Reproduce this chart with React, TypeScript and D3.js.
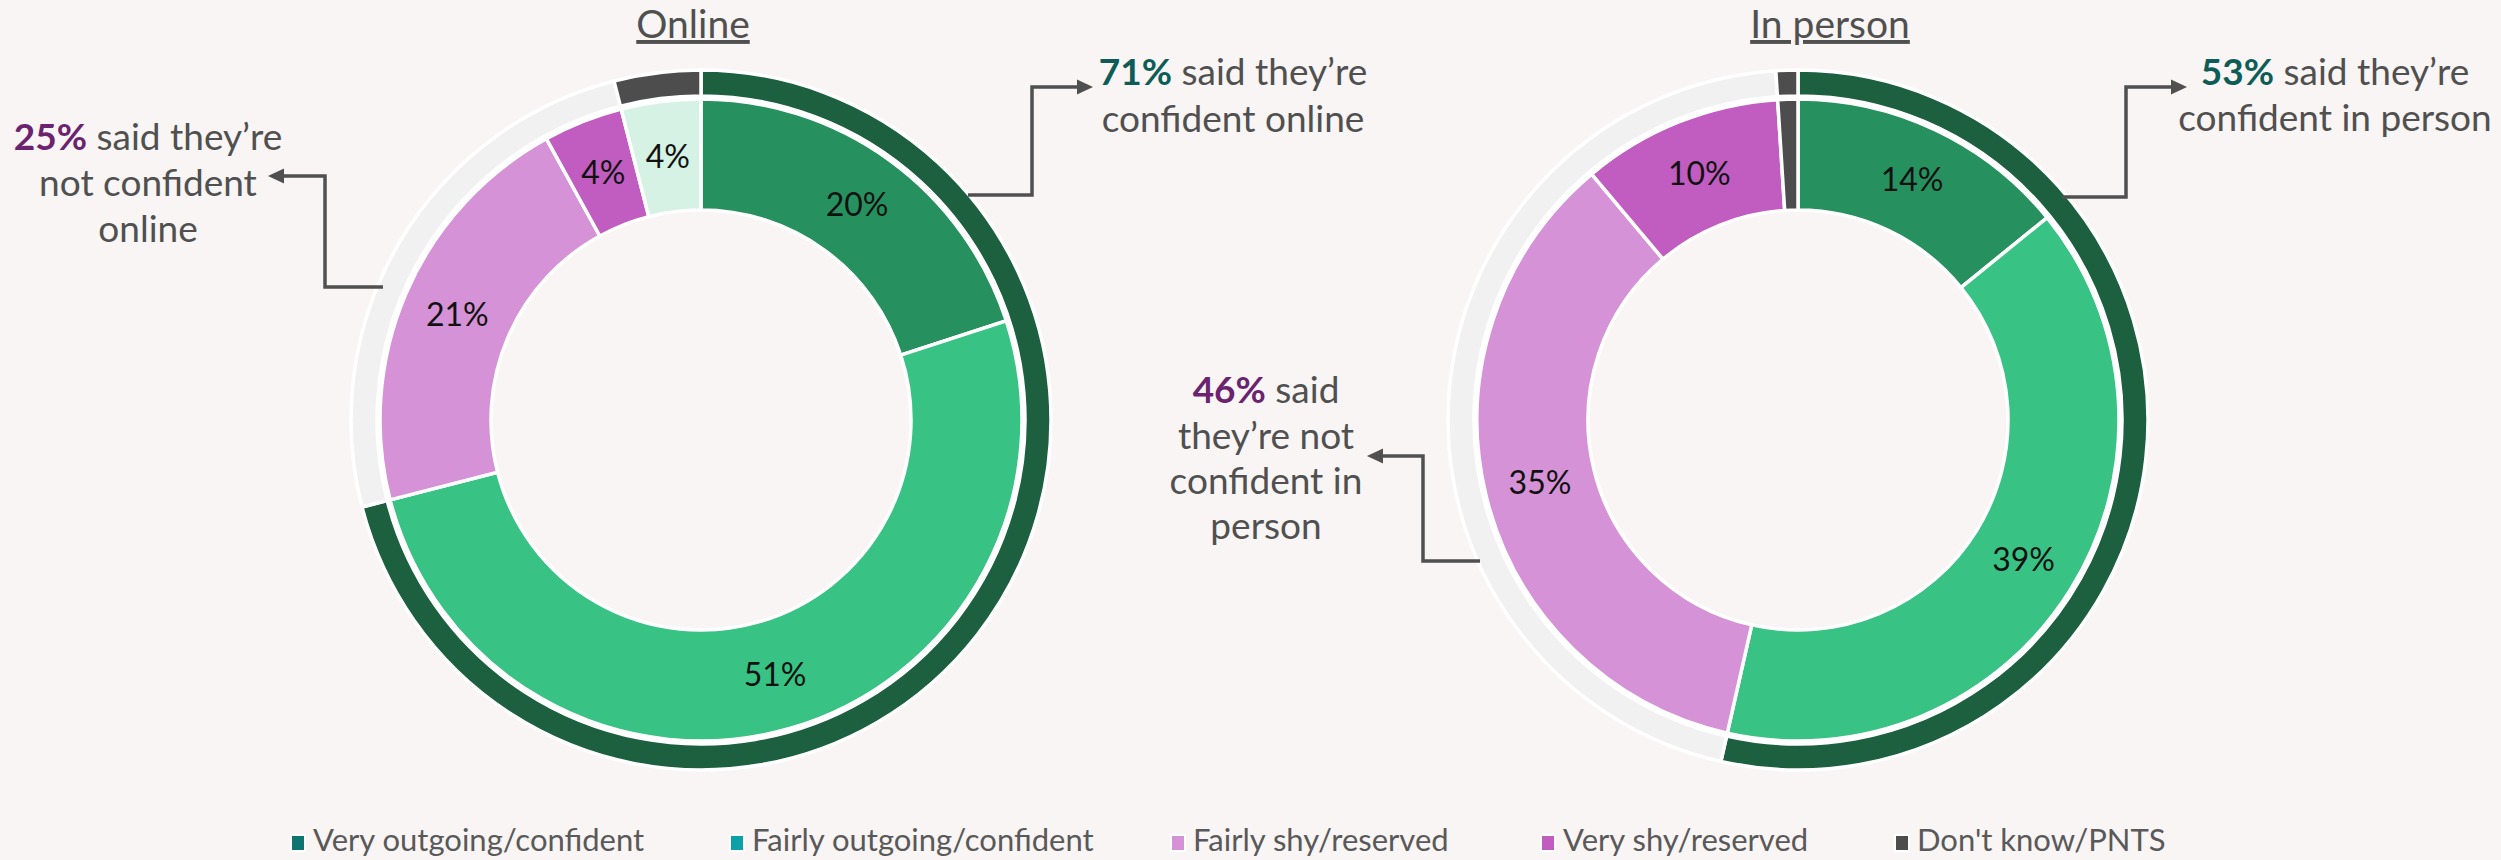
import React from "react";
import * as d3 from "d3";

// ---------- data ----------
const categories = [
  "Very outgoing/confident",
  "Fairly outgoing/confident",
  "Fairly shy/reserved",
  "Very shy/reserved",
  "Don't know/PNTS",
];
const onlineValues = [20, 51, 21, 4, 4];
const inPersonValues = [14, 39, 35, 10, 1];
const onlineCallouts = [71, 25];
const inPersonCallouts = [53, 46];
const chartTitles = ["Online", "In person"];

// ---------- styles ----------
const BG = "#F8F5F4";
const TEXT = "#505050";
const innerColorsOnline = ["#26915F", "#38C385", "#D592D6", "#C15CC1", "#D6F2E4"];
const innerColorsInPerson = ["#26915F", "#38C385", "#D592D6", "#C15CC1", "#4D4D4D"];
const ringColors = ["#1C6040", "#F1F1F1", "#4D4D4D"];
const legendColors = ["#0E7571", "#0BA1A8", "#D592D6", "#C15CC1", "#4D4D4D"];
const FONT = "Lato, 'Open Sans', sans-serif";

const W = 2501;
const H = 860;
const CY = 420;
const R_RING_OUT = 350;
const R_RING_IN = 324;
const R_OUT = 321;
const R_IN = 210;

const pie = d3.pie<number>().sort(null).value((d) => d);
const innerArc = d3.arc<d3.PieArcDatum<number>>().innerRadius(R_IN).outerRadius(R_OUT);
const ringArc = d3.arc<d3.PieArcDatum<number>>().innerRadius(R_RING_IN).outerRadius(R_RING_OUT);

function Donut({ cx, values, colors }: { cx: number; values: number[]; colors: string[] }) {
  const ringValues = [values[0] + values[1], values[2] + values[3], values[4]];
  const inner = pie(values);
  const ring = pie(ringValues);
  return (
    <g transform={`translate(${cx},${CY})`}>
      {ring.map((d, i) => (
        <path key={"r" + i} d={ringArc(d) || ""} fill={ringColors[i]} stroke="#FFFFFF" strokeWidth={3.5} />
      ))}
      {inner.map((d, i) => (
        <path key={"i" + i} d={innerArc(d) || ""} fill={colors[i]} stroke="#FFFFFF" strokeWidth={3.5} />
      ))}
      {inner.map((d, i) => {
        if (d.data < 3) return null;
        const [x, y] = innerArc.centroid(d);
        return (
          <text key={"l" + i} x={x} y={y} dy="0.35em" textAnchor="middle" fontFamily={FONT} fontSize={32} fill="#111111">
            {d.data}%
          </text>
        );
      })}
    </g>
  );
}

function Arrow({ pts }: { pts: [number, number][] }) {
  const n = pts.length;
  const [tx, ty] = pts[n - 1];
  const [px] = pts[n - 2];
  const dir = Math.sign(tx - px);
  const L = 16;
  const hw = 7.5;
  const line = d3.line()(pts.slice(0, n - 1).concat([[tx - dir * L + dir * 2, ty]]) as [number, number][]);
  const head = `M${tx},${ty} L${tx - dir * L},${ty - hw} L${tx - dir * L},${ty + hw} Z`;
  return (
    <g>
      <path d={line || ""} fill="none" stroke={TEXT} strokeWidth={3.5} />
      <path d={head} fill={TEXT} />
    </g>
  );
}

function Callout({ x, ys, pct, color, first, rest }: { x: number; ys: number[]; pct: number; color: string; first: string; rest: string[] }) {
  return (
    <g fontFamily={FONT} fontSize={37} fill={TEXT} textAnchor="middle">
      <text x={x} y={ys[0]}>
        <tspan fontWeight="bold" fill={color}>{pct}%</tspan>
        {first}
      </text>
      {rest.map((t, i) => (
        <text key={i} x={x} y={ys[i + 1]}>
          {t}
        </text>
      ))}
    </g>
  );
}

export default function App() {
  const legendTextX = [313, 752, 1193, 1563, 1917];
  return (
    <svg width={W} height={H} style={{ position: "absolute", left: 0, top: 0 }}>
      <rect x={0} y={0} width={W} height={H} fill={BG} />

      {/* titles */}
      <text x={693} y={38} textAnchor="middle" fontFamily={FONT} fontSize={39} fill={TEXT} textDecoration="underline">
        {chartTitles[0]}
      </text>
      <text x={1830} y={38} textAnchor="middle" fontFamily={FONT} fontSize={39} fill={TEXT} textDecoration="underline">
        {chartTitles[1]}
      </text>

      <Donut cx={701} values={onlineValues} colors={innerColorsOnline} />
      <Donut cx={1798} values={inPersonValues} colors={innerColorsInPerson} />

      {/* arrows */}
      <Arrow pts={[[968, 195], [1032, 195], [1032, 87], [1093, 87]]} />
      <Arrow pts={[[383, 287], [325, 287], [325, 176], [268, 176]]} />
      <Arrow pts={[[2062, 197], [2126, 197], [2126, 87], [2187, 87]]} />
      <Arrow pts={[[1480, 561], [1423, 561], [1423, 456], [1367, 456]]} />

      {/* callouts */}
      <Callout x={1233} ys={[85, 132]} pct={onlineCallouts[0]} color="#0D5C58" first=" said they’re" rest={["confident online"]} />
      <Callout x={148} ys={[150, 196, 242]} pct={onlineCallouts[1]} color="#6B2370" first=" said they’re" rest={["not confident", "online"]} />
      <Callout x={2335} ys={[85, 131]} pct={inPersonCallouts[0]} color="#0D5C58" first=" said they’re" rest={["confident in person"]} />
      <Callout x={1266} ys={[403, 449, 494, 539]} pct={inPersonCallouts[1]} color="#6B2370" first=" said" rest={["they’re not", "confident in", "person"]} />

      {/* legend */}
      <g fontFamily={FONT} fontSize={31} fill="#595959">
        {categories.map((c, i) => (
          <g key={c}>
            <rect x={legendTextX[i] - 22} y={835} width={14} height={16} fill={legendColors[i]} stroke="#FFFFFF" strokeWidth={2} />
            <text x={legendTextX[i]} y={851}>{c}</text>
          </g>
        ))}
      </g>
    </svg>
  );
}
